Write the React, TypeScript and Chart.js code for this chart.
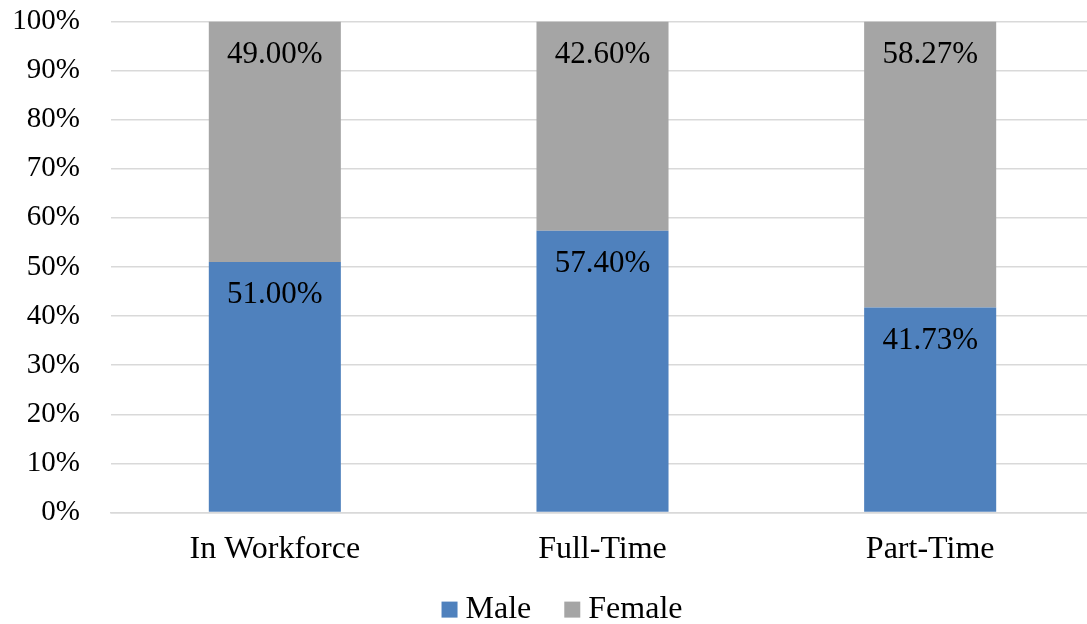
import React, { useEffect, useRef } from "react";
import { Chart, registerables } from "chart.js";

Chart.register(...registerables);

const categories = ["In Workforce", "Full-Time", "Part-Time"];
const seriesNames = ["Male", "Female"];
const seriesColors = ["#4F81BD", "#A5A5A5"];
const maleValues = [51.0, 57.4, 41.73];
const femaleValues = [49.0, 42.6, 58.27];
const yTicks = [0, 10, 20, 30, 40, 50, 60, 70, 80, 90, 100];

const FONT = "'Liberation Serif', 'Times New Roman', serif";
const CANVAS_OFFSET = 27;

const dataLabelPlugin = {
  id: "segLabels",
  afterDatasetsDraw(chart: any) {
    const ctx = chart.ctx;
    ctx.save();
    ctx.font = `31px ${FONT}`;
    ctx.fillStyle = "#000";
    ctx.textAlign = "center";
    ctx.textBaseline = "middle";
    chart.data.datasets.forEach((ds: any, di: number) => {
      const meta = chart.getDatasetMeta(di);
      meta.data.forEach((bar: any, i: number) => {
        const v = ds.data[i];
        ctx.fillText(v.toFixed(2) + "%", bar.x, bar.y + 33);
      });
    });
    ctx.restore();
  },
};

const customLegendPlugin = {
  id: "customLegend",
  afterDraw(chart: any) {
    const ctx = chart.ctx;
    ctx.save();
    ctx.font = `32px ${FONT}`;
    ctx.textBaseline = "middle";
    ctx.textAlign = "left";
    const box = 16;
    const gapText = 8;
    const gapItem = 33;
    const items = chart.data.datasets.map((ds: any) => ({
      label: ds.label,
      color: ds.backgroundColor,
      w: ctx.measureText(ds.label).width,
    }));
    const total =
      items.reduce((s: number, it: any) => s + box + gapText + it.w, 0) +
      gapItem * (items.length - 1);
    let x = 562 - total / 2;
    const cy = chart.chartArea.bottom + 97;
    items.forEach((it: any) => {
      ctx.fillStyle = it.color;
      ctx.fillRect(x, cy - box / 2, box, box);
      x += box + gapText;
      ctx.fillStyle = "#000";
      ctx.fillText(it.label, x, cy);
      x += it.w + gapItem;
    });
    ctx.restore();
  },
};

export default function App() {
  const ref = useRef<HTMLCanvasElement>(null);
  useEffect(() => {
    if (!ref.current) return;
    const chart = new Chart(ref.current, {
      type: "bar",
      data: {
        labels: categories,
        datasets: [
          { label: seriesNames[0], data: maleValues, backgroundColor: seriesColors[0], barPercentage: 0.403, categoryPercentage: 1 },
          { label: seriesNames[1], data: femaleValues, backgroundColor: seriesColors[1], barPercentage: 0.403, categoryPercentage: 1 },
        ],
      },
      options: {
        responsive: false,
        animation: false,
        layout: { padding: { top: 8, left: 0, right: 0, bottom: 45 } },
        plugins: {
          legend: { display: false },
          tooltip: { enabled: false },
        },
        scales: {
          x: {
            stacked: true,
            grid: { display: false },
            border: { display: true, color: "#d9d9d9", width: 1.5 },
            ticks: { font: { family: FONT, size: 32 }, color: "#000", padding: 10 },
          },
          y: {
            stacked: true,
            min: 0,
            max: 100,
            afterBuildTicks(scale: any) {
              scale.ticks = yTicks.map((v) => ({ value: v }));
            },
            afterFit(scale: any) {
              scale.width = 111;
            },
            grid: { color: "#d9d9d9", lineWidth: 1.5, drawTicks: false },
            border: { display: false },
            ticks: {
              font: { family: FONT, size: 29 },
              color: "#000",
              padding: 31,
              callback: (v: any) => v + "%",
            },
          },
        },
      },
      plugins: [dataLabelPlugin, customLegendPlugin],
    });
    return () => chart.destroy();
  }, []);
  return (
    <div style={{ position: "fixed", left: 0, top: 0, width: 1087, height: 624, overflow: "hidden", background: "#fff" }}>
      <canvas
        ref={ref}
        width={1094}
        height={624 + CANVAS_OFFSET}
        style={{ display: "block", position: "absolute", left: 0, top: -CANVAS_OFFSET, width: 1094, height: 624 + CANVAS_OFFSET }}
      />
    </div>
  );
}
